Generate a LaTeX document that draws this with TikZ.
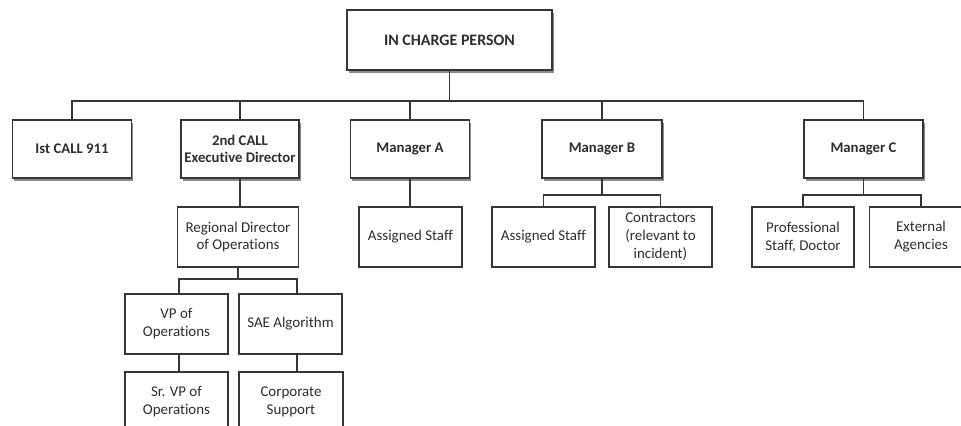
\documentclass[tikz,border=0pt]{standalone}
\usepackage{fontspec}
\setmainfont[Ligatures=NoCommon]{Carlito}
\usetikzlibrary{shadows}
\definecolor{boxline}{HTML}{363636}
\definecolor{boxtext}{HTML}{2E2E2E}
\begin{document}
\begin{tikzpicture}[x=1bp,y=-1bp,
    every text node part/.style={align=center},
    orgbox/.style={draw=boxline,line width=1.6bp,fill=white,text=boxtext,
      inner sep=0pt,font=\fontsize{15}{18}\selectfont},
    headbox/.style={orgbox,font=\fontsize{14.8}{17.5}\selectfont\bfseries,
      drop shadow={shadow xshift=1.5bp,shadow yshift=-2.5bp,fill=black!75,opacity=.6}},
    link/.style={draw=boxline,line width=1.5bp}]

    \useasboundingbox (0,0) rectangle (961,425);
    \clip (0,0) rectangle (961,425);

    \node[headbox,minimum width=205bp,minimum height=60bp,font=\fontsize{16}{19}\selectfont\bfseries] (InCharge) at (449.5,40) {IN CHARGE PERSON};

    \node[headbox,minimum width=119bp,minimum height=58bp] (CallA)  at (72,149)    {Ist CALL 911};
    \node[headbox,minimum width=118bp,minimum height=58bp] (CallB)  at (240,149)   {2nd CALL\\Executive Director};
    \node[headbox,minimum width=119bp,minimum height=58bp] (MgrA)   at (410,149)   {Manager A};
    \node[headbox,minimum width=120bp,minimum height=58bp] (MgrB)   at (602,149)   {Manager B};
    \node[headbox,minimum width=119bp,minimum height=58bp] (MgrC)   at (863.5,149) {Manager C};

    \node[orgbox,minimum width=121bp,minimum height=60bp] (RegDir)  at (238,237)   {Regional Director\\of Operations};
    \node[orgbox,minimum width=103bp,minimum height=60bp] (StaffA)  at (410.5,237) {Assigned Staff};
    \node[orgbox,minimum width=103bp,minimum height=60bp] (StaffB)  at (543.5,237) {Assigned Staff};
    \node[orgbox,minimum width=103bp,minimum height=60bp] (Contr)   at (660.5,237) {Contractors\\(relevant to\\incident)};
    \node[orgbox,minimum width=102bp,minimum height=60bp] (ProfSt)  at (803,237)   {Professional\\Staff, Doctor};
    \node[orgbox,minimum width=103bp,minimum height=60bp] (ExtAg)   at (921,237)   {External\\Agencies};

    \node[orgbox,minimum width=103bp,minimum height=60bp] (VPOps)   at (176.5,324) {VP of\\Operations};
    \node[orgbox,minimum width=103bp,minimum height=60bp] (SAEAlg)  at (290.5,324) {SAE Algorithm};
    \node[orgbox,minimum width=103bp,minimum height=60bp] (SrVPOps) at (176.5,402) {Sr. VP of\\Operations};
    \node[orgbox,minimum width=104bp,minimum height=60bp] (CorpSup) at (291,402)   {Corporate\\Support};

    \draw[link] (InCharge.south) ++(0,30) -| (CallA.north);
    \draw[link] (InCharge.south) ++(0,30) -| (CallB.north);
    \draw[link] (InCharge.south) ++(0,30) -| (MgrA.north);
    \draw[link] (InCharge.south) ++(0,30) -| (MgrB.north);
    \draw[link] (InCharge.south) ++(0,30) -| (MgrC.north);
    \draw[link] (InCharge.south) -- ++(0,30);

    \draw[link] (CallB.south)  -- (RegDir.north -| CallB.south);
    \draw[link] (MgrA.south)   -- (StaffA.north -| MgrA.south);

    \draw[link] (MgrB.south) -- ++(0,16) -| (StaffB.north);
    \draw[link] (MgrB.south) ++(0,16) -| (Contr.north);
    \draw[link] (MgrC.south) -- ++(0,16) -| (ProfSt.north);
    \draw[link] (MgrC.south) ++(0,16) -| (ExtAg.north);

    \draw[link] (RegDir.south) -- ++(0,11) -| ([xshift=2.5bp]VPOps.north);
    \draw[link] (RegDir.south) ++(0,11) -| ([xshift=6.5bp]SAEAlg.north);
    \draw[link] ([xshift=2.5bp]VPOps.south)  -- ([xshift=2.5bp]SrVPOps.north);
    \draw[link] ([xshift=6.5bp]SAEAlg.south) -- ([xshift=6bp]CorpSup.north);
  \end{tikzpicture}
\end{document}
